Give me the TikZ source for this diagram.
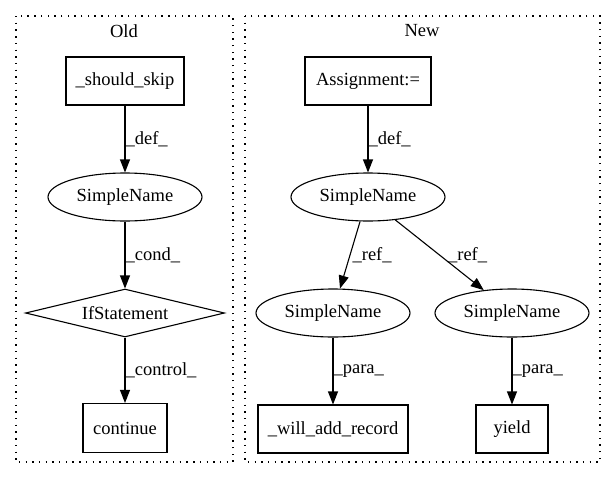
\documentclass[tikz,border=0pt]{standalone}
\usepackage{fontspec}
\setmainfont{Liberation Serif}
\usetikzlibrary{shapes.geometric,arrows.meta}
\begin{document}
\begin{tikzpicture}[x=1pt,y=-1pt,
  every node/.style={font=\fontsize{18.5}{22}\selectfont},
  box/.style={draw,line width=1.1pt,rectangle,inner sep=0pt,minimum height=48pt},
  ell/.style={draw,line width=1.1pt,ellipse,inner sep=0pt,minimum width=154pt,minimum height=48pt},
  dia/.style={draw,line width=1.1pt,diamond,inner sep=0pt,aspect=4.15,minimum width=199pt,minimum height=48pt},
  cluster/.style={draw,line width=1.3pt,dash pattern=on 1.4pt off 5.3pt},
  edge/.style={draw,line width=1.1pt,-{Triangle[length=13pt,width=10pt]}},
  elab/.style={anchor=west,inner sep=0pt}]
\useasboundingbox (0,0) rectangle (616,480);
\draw[cluster] (16,16) rectangle (233,462);
\draw[cluster] (245,16) rectangle (600,462);
\node (oldlab) at (124,31) {Old};
\node (newlab) at (422,31) {New};
% Old
\node[box,minimum width=118pt] (skip) at (125,81) {\_should\_skip};
\node[ell] (osn) at (125,197) {SimpleName};
\node[dia] (ifs) at (125,313) {IfStatement};
\node[box,minimum width=84pt,minimum height=49pt] (cont) at (125,428) {continue};
\path[edge] (skip) -- node[elab] {\_def\_} (osn);
\path[edge] (osn) -- node[elab] {\_cond\_} (ifs);
\path[edge] (ifs) -- node[elab] {\_control\_} (cont);
% New
\node[box,minimum width=126pt] (asg) at (368,81) {Assignment:=};
\node[ell] (sn) at (368,197) {SimpleName};
\node[ell] (snl) at (333,313) {SimpleName};
\node[ell] (snr) at (512,313) {SimpleName};
\node[box,minimum width=150pt] (war) at (333,429) {\_will\_add\_record};
\node[box,minimum width=72pt] (yld) at (512,429) {yield};
\path[edge] (asg) -- node[elab] {\_def\_} (sn);
\path[edge] (sn.252) -- node[elab,xshift=2pt] {\_ref\_} (snl.74);
\path[edge] (sn.320) -- node[elab,xshift=8pt] {\_ref\_} (snr.141);
\path[edge] (snl) -- node[elab] {\_para\_} (war);
\path[edge] (snr) -- node[elab] {\_para\_} (yld);
\end{tikzpicture}
\end{document}
